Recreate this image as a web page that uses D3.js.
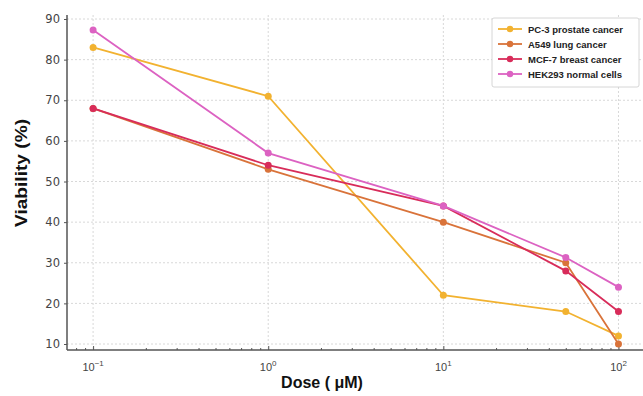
<!DOCTYPE html>
<html>
<head>
<meta charset="utf-8">
<script src="https://cdn.jsdelivr.net/npm/d3@7"></script>
<style>
  body { margin: 0; background: #fff; }
  svg { display: block; font-family: "DejaVu Sans", sans-serif; }
</style>
</head>
<body>
<div id="chart"></div>
<script>
// Dose-response data
const doses = [0.1, 1, 10, 50, 100];
const pc3 = [83, 71, 22, 18, 12];
const a549 = [68, 53, 40, 30, 10];
const mcf7 = [68, 54, 44, 28, 18];
const hek293 = [87.3, 57, 44, 31.3, 24];
const seriesNames = ['PC-3 prostate cancer', 'A549 lung cancer', 'MCF-7 breast cancer', 'HEK293 normal cells'];
const seriesColors = ['#f2b230', '#d9733a', '#d82c5a', '#dc62c2'];
const yTicks = [10, 20, 30, 40, 50, 60, 70, 80, 90];
const xTicks = [0.1, 1, 10, 100];
const xTickLabels = ['\u22121', '0', '1', '2'];

const width = 643, height = 396;
const margin = { top: 15, right: 0, bottom: 46, left: 67 };

const svg = d3.select('#chart').append('svg')
    .attr('width', width)
    .attr('height', height);

// Scales
const xScale = d3.scaleLog()
    .domain([Math.pow(10, -1.149), Math.pow(10, 2.14)])
    .range([margin.left, width - margin.right]);

const yScale = d3.scaleLinear()
    .domain([10, 90])
    .range([344, 19]);

const plotBottom = height - margin.bottom;

// Grid lines
svg.append('g')
    .selectAll('line')
    .data(yTicks)
    .enter().append('line')
    .attr('x1', margin.left)
    .attr('x2', width)
    .attr('y1', d => yScale(d))
    .attr('y2', d => yScale(d))
    .attr('stroke', '#d8d8d8')
    .attr('stroke-dasharray', '2,2')
    .attr('stroke-width', 1);

svg.append('g')
    .selectAll('line')
    .data(xTicks)
    .enter().append('line')
    .attr('x1', d => xScale(d))
    .attr('x2', d => xScale(d))
    .attr('y1', margin.top)
    .attr('y2', plotBottom)
    .attr('stroke', '#d8d8d8')
    .attr('stroke-dasharray', '2,2')
    .attr('stroke-width', 1);

// X axis (major + minor ticks, pointing inward)
const minorTicks = [];
[0.01, 0.1, 1, 10].forEach(base => {
    for (let k = 2; k <= 9; k++) minorTicks.push(base * k);
});

const xAxis = svg.append('g')
    .attr('transform', `translate(0,${plotBottom})`);

xAxis.call(d3.axisBottom(xScale).tickValues(xTicks).tickSize(-4).tickFormat(''));
xAxis.append('g').call(d3.axisBottom(xScale)
    .tickValues(minorTicks.filter(d => xScale(d) >= margin.left))
    .tickSize(-2).tickFormat(''));
xAxis.selectAll('path').remove();
xAxis.selectAll('line').attr('stroke', '#555');

xAxis.selectAll('.tick-label')
    .data(xTicks)
    .enter().append('text')
    .attr('class', 'tick-label')
    .attr('x', d => xScale(d))
    .attr('y', 21)
    .attr('text-anchor', 'middle')
    .attr('fill', '#444')
    .attr('font-size', '11px')
    .each(function(d, i) {
        const t = d3.select(this);
        t.append('tspan').text('10');
        t.append('tspan').attr('dy', -5).attr('font-size', '8px').text(xTickLabels[i]);
    });

// Y axis
const yAxis = svg.append('g')
    .attr('transform', `translate(${margin.left},0)`)
    .call(d3.axisLeft(yScale).tickValues(yTicks).tickSize(3).tickPadding(4));
yAxis.select('.domain').remove();
yAxis.selectAll('line').attr('stroke', '#555');
yAxis.selectAll('text').attr('fill', '#444').attr('font-size', '11.5px').attr('font-family', '"DejaVu Sans", sans-serif');

// Spines
svg.append('line')
    .attr('x1', margin.left).attr('x2', margin.left)
    .attr('y1', margin.top).attr('y2', plotBottom)
    .attr('stroke', '#555').attr('stroke-width', 1.5);
svg.append('line')
    .attr('x1', margin.left).attr('x2', width)
    .attr('y1', plotBottom).attr('y2', plotBottom)
    .attr('stroke', '#555').attr('stroke-width', 1.5);

// Axis titles
svg.append('text')
    .attr('x', 322)
    .attr('y', 388)
    .attr('text-anchor', 'middle')
    .attr('font-size', '16px')
    .attr('font-weight', 'bold')
    .attr('fill', '#111')
    .attr('font-family', '"Liberation Sans", Arial, sans-serif')
    .text('Dose ( \u03bcM)');

svg.append('text')
    .attr('transform', 'translate(27,173) rotate(-90)')
    .attr('text-anchor', 'middle')
    .attr('font-size', '17px')
    .attr('font-weight', 'bold')
    .attr('fill', '#111')
    .attr('font-family', '"Liberation Sans", Arial, sans-serif')
    .attr('textLength', 108)
    .attr('lengthAdjust', 'spacingAndGlyphs')
    .text('Viability (%)');

// Lines and markers
const seriesData = [pc3, a549, mcf7, hek293];
const line = d3.line()
    .x((d, i) => xScale(doses[i]))
    .y(d => yScale(d));

seriesData.forEach((vals, s) => {
    svg.append('path')
        .datum(vals)
        .attr('fill', 'none')
        .attr('stroke', seriesColors[s])
        .attr('stroke-width', 1.8)
        .attr('d', line);
    svg.append('g')
        .selectAll('circle')
        .data(vals)
        .enter().append('circle')
        .attr('cx', (d, i) => xScale(doses[i]))
        .attr('cy', d => yScale(d))
        .attr('r', 3.5)
        .attr('fill', seriesColors[s]);
});

// Legend
const legend = svg.append('g')
    .attr('transform', 'translate(492,18)');

legend.append('rect')
    .attr('width', 147)
    .attr('height', 69)
    .attr('fill', '#fff')
    .attr('stroke', '#ccc')
    .attr('stroke-width', 0.8)
    .attr('rx', 2);

seriesNames.forEach((name, i) => {
    const row = legend.append('g')
        .attr('transform', `translate(0,${11 + i * 15})`);
    row.append('line')
        .attr('x1', 6).attr('x2', 30)
        .attr('stroke', seriesColors[i])
        .attr('stroke-width', 1.8);
    row.append('circle')
        .attr('cx', 18).attr('r', 3.2)
        .attr('fill', seriesColors[i]);
    row.append('text')
        .attr('x', 36)
        .attr('y', 3.5)
        .attr('font-size', '9.5px')
        .attr('font-weight', 'bold')
        .attr('fill', '#222')
        .attr('font-family', '"Liberation Sans", Arial, sans-serif')
        .text(name);
});
</script>
</body>
</html>
